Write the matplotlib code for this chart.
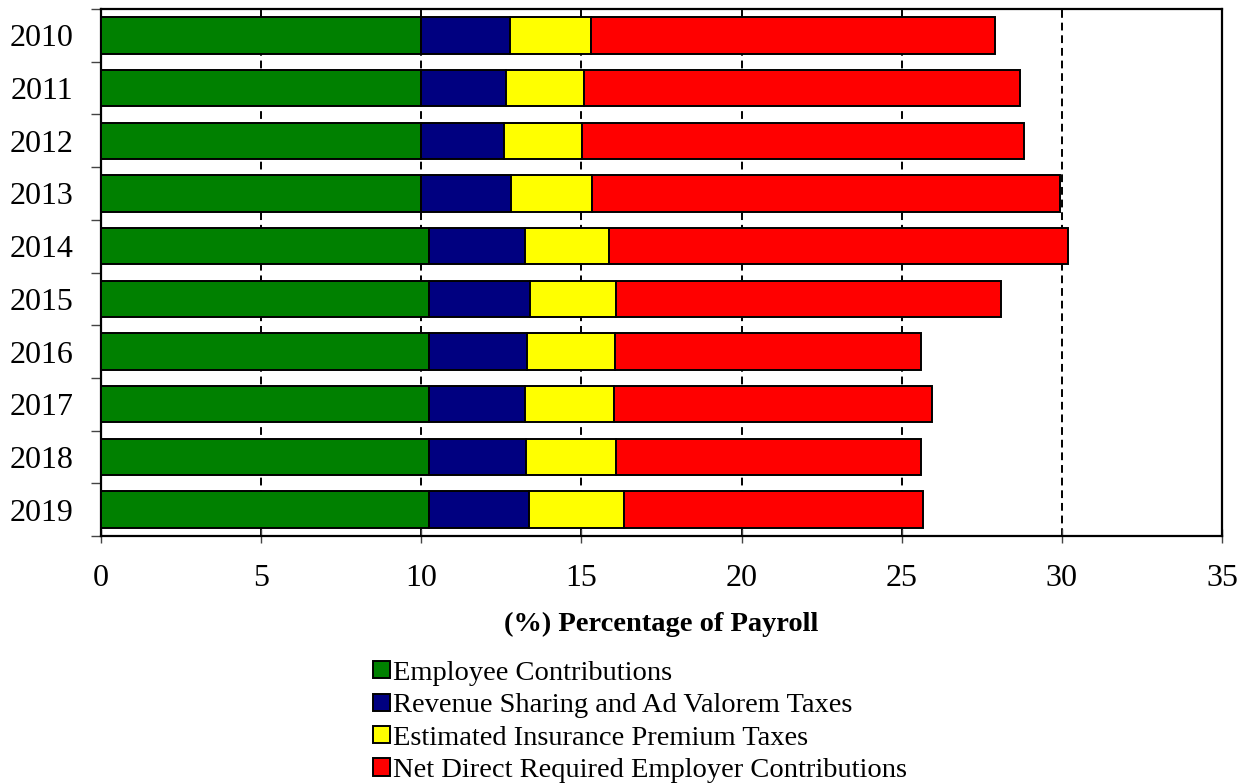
import matplotlib
matplotlib.use("Agg")
import matplotlib.pyplot as plt
import numpy as np

plt.rcParams['font.family'] = ['Liberation Serif', 'DejaVu Serif']

years = ['2010', '2011', '2012', '2013', '2014', '2015', '2016', '2017', '2018', '2019']

# share of payroll, by source (percent)
employee = [10.0, 10.0, 10.0, 10.0, 10.25, 10.25, 10.25, 10.25, 10.25, 10.25]
revenue_sharing = [2.76, 2.63, 2.57, 2.81, 3.0, 3.14, 3.05, 2.99, 3.01, 3.10]
insurance_tax = [2.55, 2.46, 2.45, 2.53, 2.60, 2.70, 2.76, 2.77, 2.82, 2.97]
employer_net = [12.61, 13.59, 13.80, 14.59, 14.33, 12.01, 9.55, 9.93, 9.53, 9.35]

series = [
    ('Employee Contributions', employee, '#008000'),
    ('Revenue Sharing and Ad Valorem Taxes', revenue_sharing, '#000080'),
    ('Estimated Insurance Premium Taxes', insurance_tax, '#FFFF00'),
    ('Net Direct Required Employer Contributions', employer_net, '#FF0000'),
]

fig = plt.figure(figsize=(12.48, 7.84), dpi=100)
ax = fig.add_axes([0.0809, 0.3163, 0.8983, 0.6722])

ypos = np.arange(len(years))
left = np.zeros(len(years))
handles = []
for name, vals, col in series:
    b = ax.barh(ypos, vals, left=left, height=0.69, color=col,
                edgecolor='black', linewidth=1.4, label=name, zorder=3)
    handles.append(b)
    left += np.array(vals)

ax.set_xlim(0, 35)
ax.set_ylim(len(years) - 0.5, -0.5)
ax.set_xticks(np.arange(0, 36, 5))
ax.set_yticks(ypos)
ax.set_yticklabels(years)
ax.set_yticks(np.arange(-0.5, len(years)), minor=True)

ax.tick_params(axis='y', which='major', length=0, pad=20, labelsize=23)
ax.tick_params(axis='y', which='minor', length=7, width=1, color='#444444')
ax.tick_params(axis='x', direction='inout', length=10, width=1, color='#444444',
               pad=15, labelsize=23)

for x in range(5, 35, 5):
    ax.axvline(x, color='black', linestyle=(0, (4, 2.5)), linewidth=1.4, zorder=1)

for s in ax.spines.values():
    s.set_linewidth(1.6)

ax.set_xlabel('(%) Percentage of Payroll', fontsize=20.5, fontweight='bold', labelpad=14)

fig.legend(handles=handles, loc='upper left', bbox_to_anchor=(0.2985, 0.157),
           frameon=False, fontsize=20.5, handlelength=0.6, handleheight=0.55,
           handletextpad=0.12, labelspacing=0.26, borderpad=0, borderaxespad=0)

fig.savefig('out.png', dpi=100)
